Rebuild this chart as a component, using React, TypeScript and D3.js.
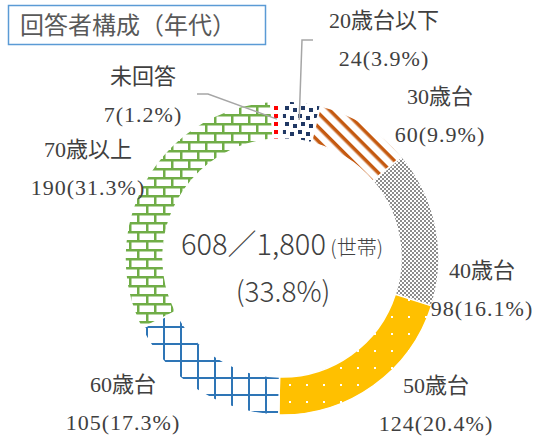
import React from "react";
import * as d3 from "d3";

const categories = ["20歳台以下", "30歳台", "40歳台", "50歳台", "60歳台", "70歳以上", "未回答"];
const counts = [24, 60, 98, 124, 105, 190, 7];
const percents = ["3.9%", "9.9%", "16.1%", "20.4%", "17.3%", "31.3%", "1.2%"];
const totalHouseholds = "1,800";
const responseRate = "33.8%";
const title = "回答者構成（年代）";

const W = 541;
const H = 438;
const cx = 282;
const cy = 258;
const outerR = 157;
const innerR = 119;

const patternIds = ["p20", "p30", "p40", "p50", "p60", "p70", "pNA"];
// label centres (layout only)
const labelPos: [number, number][] = [
  [384, 20],
  [440, 96],
  [482, 270],
  [436, 385],
  [123, 384],
  [88, 149],
  [143, 76],
];

const labelFont = "'Liberation Serif', 'Noto Sans CJK JP', serif";
const cjkFont = "'Noto Sans CJK JP', 'Noto Sans', sans-serif";

export default function App() {
  const pie = d3
    .pie<number>()
    .sort(null)
    .value((d) => d)
    .startAngle(0)
    .endAngle(2 * Math.PI);
  const arcs = pie(counts);
  const arc = d3.arc<d3.PieArcDatum<number>>().innerRadius(innerR).outerRadius(outerR);
  const leaderArc = d3.arc<d3.PieArcDatum<number>>().innerRadius(139).outerRadius(139);

  const p20 = leaderArc.centroid(arcs[0]);
  const pNA = leaderArc.centroid(arcs[6]);

  return (
    <svg width={W} height={H} style={{ position: "absolute", left: 0, top: 0, background: "#fff" }}>
      <defs>
        <pattern id="p20" width="16" height="16" patternUnits="userSpaceOnUse">
          <rect width="16" height="16" fill="#fff" />
          <g fill="#203864">
            <rect x="0" y="0" width="4" height="4" />
            <rect x="8" y="2" width="4" height="4" />
            <rect x="3" y="8" width="4" height="4" />
            <rect x="11" y="10" width="4" height="4" />
          </g>
        </pattern>
        <pattern id="p30" width="10" height="10" patternUnits="userSpaceOnUse" patternTransform="rotate(45)">
          <rect width="10" height="10" fill="#fff" />
          <rect x="0" y="0" width="10" height="3.5" fill="#C55A11" />
        </pattern>
        <pattern id="p40" width="4" height="4" patternUnits="userSpaceOnUse">
          <rect width="4" height="4" fill="#fff" />
          <rect x="0" y="0" width="2" height="2" fill="#8C8C8C" />
          <rect x="2" y="2" width="2" height="2" fill="#8C8C8C" />
        </pattern>
        <pattern id="p50" width="17" height="17" patternUnits="userSpaceOnUse">
          <rect width="17" height="17" fill="#FFC000" />
          <rect x="7" y="7" width="2" height="2" fill="#fff" />
        </pattern>
        <pattern id="p60" width="17" height="17" patternUnits="userSpaceOnUse">
          <rect width="17" height="17" fill="#fff" />
          <rect x="0" y="0" width="17" height="2" fill="#2E75B6" />
          <rect x="0" y="0" width="2" height="17" fill="#2E75B6" />
        </pattern>
        <pattern id="p70" width="17" height="18" patternUnits="userSpaceOnUse">
          <rect width="17" height="18" fill="#fff" />
          <g fill="#70AD47">
            <rect x="0" y="0" width="17" height="2.5" />
            <rect x="0" y="9" width="17" height="2.5" />
            <rect x="0" y="0" width="2.5" height="9" />
            <rect x="8" y="9" width="2.5" height="9" />
          </g>
        </pattern>
        <pattern id="pNA" width="8" height="8" patternUnits="userSpaceOnUse">
          <rect width="8" height="8" fill="#fff" />
          <rect x="0" y="0" width="4" height="4" fill="#FF0000" />
        </pattern>
      </defs>

      {/* title */}
      <rect x={8.5} y={5.5} width={257} height={39} fill="#fff" stroke="#5B9BD5" strokeWidth={1.5} />
      <text x={20} y={34} fontSize={24} fill="#595959" fontFamily={cjkFont}>
        {title}
      </text>

      {/* donut */}
      <g transform={`translate(${cx},${cy})`}>
        {arcs.map((a, i) => (
          <path key={i} d={arc(a) || ""} fill={`url(#${patternIds[i]})`} stroke="#fff" strokeWidth={1.5} />
        ))}
        {/* leader lines */}
        <polyline
          points={`${313 - cx},${40 - cy} ${302 - cx},${40 - cy} ${p20[0]},${p20[1]}`}
          fill="none"
          stroke="#A6A6A6"
          strokeWidth={1.5}
        />
        <polyline
          points={`${197 - cx},${94 - cy} ${208 - cx},${94 - cy} ${pNA[0]},${pNA[1]}`}
          fill="none"
          stroke="#A6A6A6"
          strokeWidth={1.5}
        />
      </g>

      {/* labels */}
      {categories.map((c, i) => (
        <g key={c} fontFamily={labelFont} fontSize={22} fill="#404040" textAnchor="middle">
          <text x={labelPos[i][0]} y={labelPos[i][1]} dominantBaseline="central">
            {c}
          </text>
          <text x={labelPos[i][0]} y={labelPos[i][1] + 38} dominantBaseline="central" letterSpacing={1}>
            {`${counts[i]}(${percents[i]})`}
          </text>
        </g>
      ))}

      {/* centre text */}
      <text x={282} y={255} textAnchor="middle" fill="#404040" fontFamily={cjkFont} fontWeight={300}>
        <tspan fontSize={29}>{`${d3.sum(counts)}／${totalHouseholds}`}</tspan>
        <tspan fontSize={20}>{" (世帯)"}</tspan>
      </text>
      <text x={283} y={302} textAnchor="middle" fill="#404040" fontFamily={cjkFont} fontWeight={300} fontSize={28}>
        {`(${responseRate})`}
      </text>
    </svg>
  );
}
